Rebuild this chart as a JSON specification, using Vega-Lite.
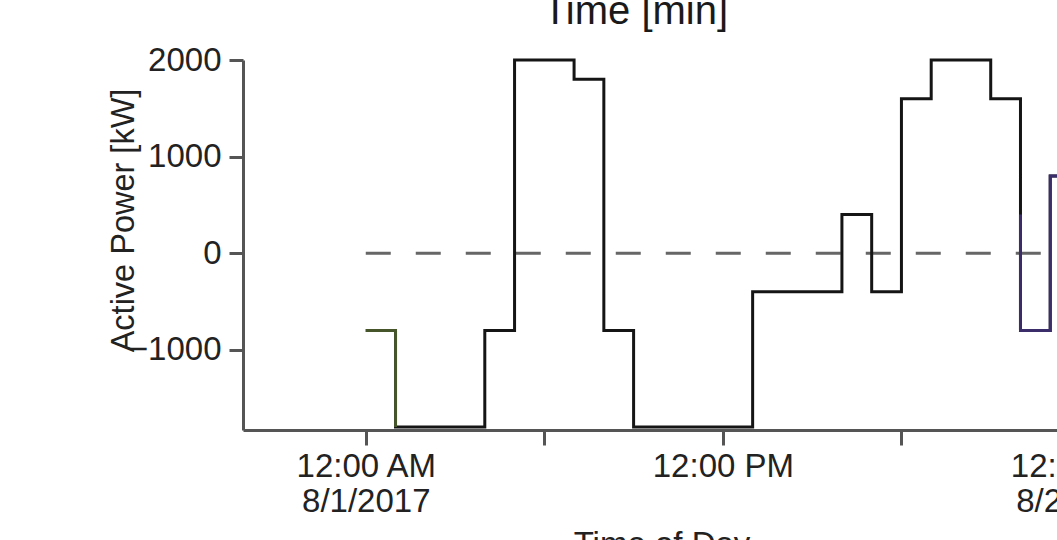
{
  "$schema": "https://vega.github.io/schema/vega-lite/v6.json",
  "autosize": {"type": "none"},
  "padding": {"left": 243, "top": 60, "right": -23, "bottom": 110},
  "width": 837,
  "height": 370,
  "background": "white",
  "config": {
    "view": {"stroke": null},
    "axis": {
      "grid": false,
      "domainColor": "#555555",
      "domainWidth": 3,
      "tickColor": "#555555",
      "tickWidth": 3,
      "labelFont": "Liberation Sans",
      "labelFontSize": 33,
      "labelColor": "#222222",
      "titleFont": "Liberation Sans",
      "titleFontSize": 32.5,
      "titleFontWeight": "normal",
      "titleColor": "#222222"
    }
  },
  "datasets": {
    "power": [
      {"t": "2017-08-01T00:00", "v": -800, "s": "total"},
      {"t": "2017-08-01T01:00", "v": -1800, "s": "total"},
      {"t": "2017-08-01T04:00", "v": -800, "s": "total"},
      {"t": "2017-08-01T05:00", "v": 2000, "s": "total"},
      {"t": "2017-08-01T07:00", "v": 1800, "s": "total"},
      {"t": "2017-08-01T08:00", "v": -800, "s": "total"},
      {"t": "2017-08-01T09:00", "v": -1800, "s": "total"},
      {"t": "2017-08-01T13:00", "v": -400, "s": "total"},
      {"t": "2017-08-01T16:00", "v": 400, "s": "total"},
      {"t": "2017-08-01T17:00", "v": -400, "s": "total"},
      {"t": "2017-08-01T18:00", "v": 1600, "s": "total"},
      {"t": "2017-08-01T19:00", "v": 2000, "s": "total"},
      {"t": "2017-08-01T21:00", "v": 1600, "s": "total"},
      {"t": "2017-08-01T22:00", "v": -800, "s": "total"},
      {"t": "2017-08-01T23:00", "v": 800, "s": "total"},
      {"t": "2017-08-02T00:00", "v": 800, "s": "total"},
      {"t": "2017-08-01T00:00", "v": -800, "s": "unit1"},
      {"t": "2017-08-01T01:00", "v": -1800, "s": "unit1"},
      {"t": "2017-08-01T22:00", "v": 400, "s": "unit2"},
      {"t": "2017-08-01T22:00", "v": -800, "s": "unit2"},
      {"t": "2017-08-01T23:00", "v": 800, "s": "unit2"},
      {"t": "2017-08-02T00:00", "v": 800, "s": "unit2"}
    ],
    "zero": [
      {"t": "2017-08-01T00:00", "t1": "2017-08-02T00:00", "v": 0}
    ]
  },
  "resolve": {"axis": {"x": "independent"}},
  "layer": [
    {
      "data": {"name": "zero"},
      "mark": {"type": "rule", "color": "#666666", "strokeWidth": 3, "strokeDash": [25, 25]},
      "encoding": {
        "x": {
          "field": "t",
          "type": "temporal",
          "scale": {
            "domain": [
              {"year": 2017, "month": 7, "date": 31, "hours": 19, "minutes": 52, "seconds": 30},
              {"year": 2017, "month": 8, "date": 2, "hours": 0}
            ]
          },
          "axis": {
            "orient": "top",
            "title": "Time [min]",
            "domain": false,
            "ticks": false,
            "labels": false,
            "titleX": 392,
            "titleY": -37,
            "titleAlign": "center",
            "titleBaseline": "alphabetic",
            "titleFontSize": 40,
            "titleColor": "#1a1a1a"
          }
        },
        "x2": {"field": "t1"},
        "y": {
          "field": "v",
          "type": "quantitative",
          "scale": {"domain": [-1830, 2000], "nice": false, "zero": false},
          "axis": {
            "title": "Active Power [kW]",
            "titleX": -110,
            "titleY": 160,
            "titleAngle": -90,
            "titleAlign": "center",
            "titleBaseline": "alphabetic",
            "values": [-1000, 0, 1000, 2000],
            "format": "d",
            "labelPadding": 8,
            "tickSize": 14
          }
        }
      }
    },
    {
      "data": {"name": "power"},
      "mark": {"type": "line", "interpolate": "step-after", "strokeWidth": 3},
      "encoding": {
        "x": {
          "field": "t",
          "type": "temporal",
          "axis": {
            "orient": "bottom",
            "title": "Time of Day",
            "titleFontSize": 33,
            "titleY": 98,
            "titleBaseline": "top",
            "values": [
              {"year": 2017, "month": 8, "date": 1, "hours": 0},
              {"year": 2017, "month": 8, "date": 1, "hours": 6},
              {"year": 2017, "month": 8, "date": 1, "hours": 12},
              {"year": 2017, "month": 8, "date": 1, "hours": 18},
              {"year": 2017, "month": 8, "date": 2, "hours": 0}
            ],
            "labelExpr": "hours(datum.value) == 0 ? [timeFormat(datum.value, '%-I:%M %p'), timeFormat(datum.value, '%-m/%-d/%Y')] : (hours(datum.value) == 12 ? timeFormat(datum.value, '%-I:%M %p') : '')",
            "labelLineHeight": 35,
            "labelPadding": 5,
            "tickSize": 15,
            "labelFlush": false,
            "labelOverlap": false,
            "labelBound": false
          }
        },
        "y": {"field": "v", "type": "quantitative"},
        "color": {
          "field": "s",
          "type": "nominal",
          "scale": {"domain": ["total", "unit1", "unit2"], "range": ["#151515", "#46552a", "#3a2d6a"]},
          "legend": null
        }
      }
    }
  ]
}
